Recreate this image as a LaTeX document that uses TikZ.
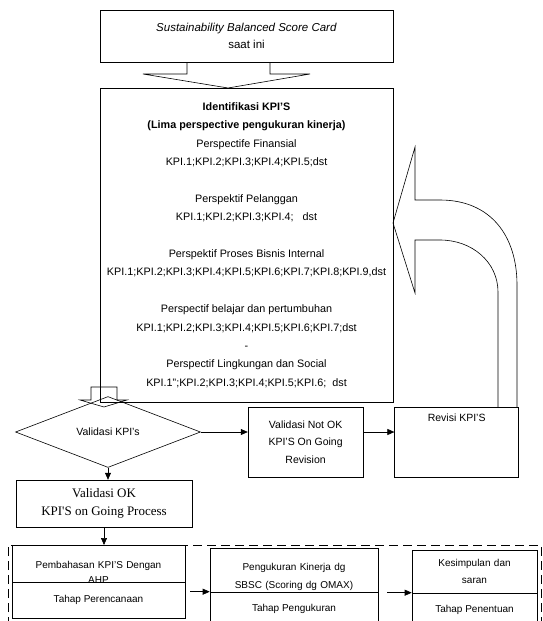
\documentclass[tikz,border=0pt]{standalone}
\usepackage{fontspec}
\setmainfont{Liberation Sans}
\newfontfamily\timesfont{Liberation Serif}
\usetikzlibrary{arrows.meta, positioning, shapes, calc}

\begin{document}
\begin{tikzpicture}[x=1pt, y=-1pt, line width=0.6pt, >={Triangle[length=7pt, width=6pt]},
    box/.style={draw, rectangle, align=center, inner sep=0pt},
    stagetop/.style={draw, rectangle, anchor=north, align=center, inner xsep=0pt, minimum height=10pt},
    stagebottom/.style={draw, fill=white, rectangle, inner sep=0pt, font=\fontsize{10}{12}\selectfont}]
    \useasboundingbox (0,0) rectangle (542,621);

    \node (SBSC) [box, minimum width=293pt, minimum height=52pt, font=\fontsize{11.5}{17}\selectfont] at (246.5,36) {\textit{Sustainability Balanced Score Card}\\saat ini};
    \node (IdentKPI) [box, minimum width=293pt, minimum height=314pt, font=\fontsize{10.8}{18.4}\selectfont] at (246.5,245) {\textbf{Identifikasi KPI'S}\\
        \textbf{(Lima perspective pengukuran kinerja)}\\
        Perspectife Finansial\\
        KPI.1;KPI.2;KPI.3;KPI.4;KPI.5;dst\\[18.4pt]
        Perspektif Pelanggan\\
        KPI.1;KPI.2;KPI.3;KPI.4;\ \ \ dst\\[18.4pt]
        Perspektif Proses Bisnis Internal\\
        KPI.1;KPI.2;KPI.3;KPI.4;KPI.5;KPI.6;KPI.7;KPI.8;KPI.9,dst\\[18.4pt]
        Perspectif belajar dan pertumbuhan\\
        KPI.1;KPI.2;KPI.3;KPI.4;KPI.5;KPI.6;KPI.7;dst\\
        -\\
        Perspectif Lingkungan dan Social\\
        KPI.1";KPI.2;KPI.3;KPI.4;KPI.5;KPI.6;\ \ dst};

    % block arrows
    \draw (187,62) -- (187,74) -- (143,74) -- (228,88) -- (310,74) -- (270,74) -- (270,62);
    \draw (80,400) -- (91,400) -- (91,387) -- (117,387) -- (117,400) -- (127,400) -- (104,407) -- cycle;

    \node (ValidKPI) [draw, diamond, minimum width=185pt, minimum height=50pt, inner sep=0pt, font=\fontsize{10.5}{12}\selectfont] at (108,432) {Validasi KPI's};
    \node (NotOK) [box, right=47pt of ValidKPI, yshift=-10pt, minimum width=115pt, minimum height=70pt, font=\fontsize{10.5}{17.5}\selectfont] {Validasi Not OK\\KPI'S On Going\\Revision};
    \node (Revisi) [box, right=31pt of NotOK, minimum width=124pt, minimum height=70pt, text height=8pt, text depth=50pt, inner ysep=6pt, font=\fontsize{10.5}{12}\selectfont] {Revisi KPI'S};
    \node (ValidOK) [box, below=12pt of ValidKPI, xshift=-4pt, minimum width=176pt, minimum height=47pt, font=\timesfont\fontsize{13}{18}\selectfont] {Validasi OK\\KPI'S on Going Process};

    \draw[->] (ValidKPI.east) -- (ValidKPI.east -| NotOK.west);
    \draw[->] (NotOK.east |- ValidKPI.east) -- (ValidKPI.east -| Revisi.west);
    \draw[->] (ValidKPI.south) -- (ValidKPI.south |- ValidOK.north);

    % revisi back to identifikasi
    \draw (498,407) -- (498,292) .. controls (498,262) and (472,240) .. (440,240) -- (415,240) -- (415,293) -- (393,223) -- (415,147) -- (415,200) -- (440,200) .. controls (490,200) and (517,235) .. (517,285) -- (517,407);

    % tahap
    \draw[dashed, dash pattern=on 9pt off 5pt] (8,626) -- (8,545) -- (541,545) -- (541,626);
    \node (Pembahasan) [stagetop, text width=173pt, inner ysep=16pt, font=\fontsize{10}{15}\selectfont] at (98.5,545) {Pembahasan KPI'S Dengan\\AHP};
    \node (TahapPerencanaan) [stagebottom, minimum width=173pt, minimum height=36pt] at (98.5,600) {Tahap Perencanaan};
    \node (PengukuranKinerja) [stagetop, text width=168pt, inner ysep=15pt, font=\fontsize{10}{18}\selectfont] at (294,548) {Pengukuran Kinerja dg\\SBSC (Scoring dg OMAX)};
    \node (TahapPengukuran) [stagebottom, minimum width=168pt, minimum height=34pt] at (294,609) {Tahap Pengukuran};
    \node (Kesimpulan) [stagetop, text width=125pt, minimum height=43pt, font=\fontsize{10}{17}\selectfont] at (474.5,550) {Kesimpulan dan\\saran};
    \node (TahapPenentuan) [stagebottom, minimum width=125pt, minimum height=33pt] at (474.5,609.5) {Tahap Penentuan};

    \draw[->] (ValidOK.south) -- (ValidOK.south |- Pembahasan.north);
    \draw[->] ($(TahapPerencanaan.east |- TahapPengukuran.north)+(5,0)$) -- (TahapPengukuran.north west);
    \draw[->] ($(TahapPengukuran.east |- TahapPenentuan.north)+(9,0)$) -- (TahapPenentuan.north west);
\end{tikzpicture}
\end{document}
